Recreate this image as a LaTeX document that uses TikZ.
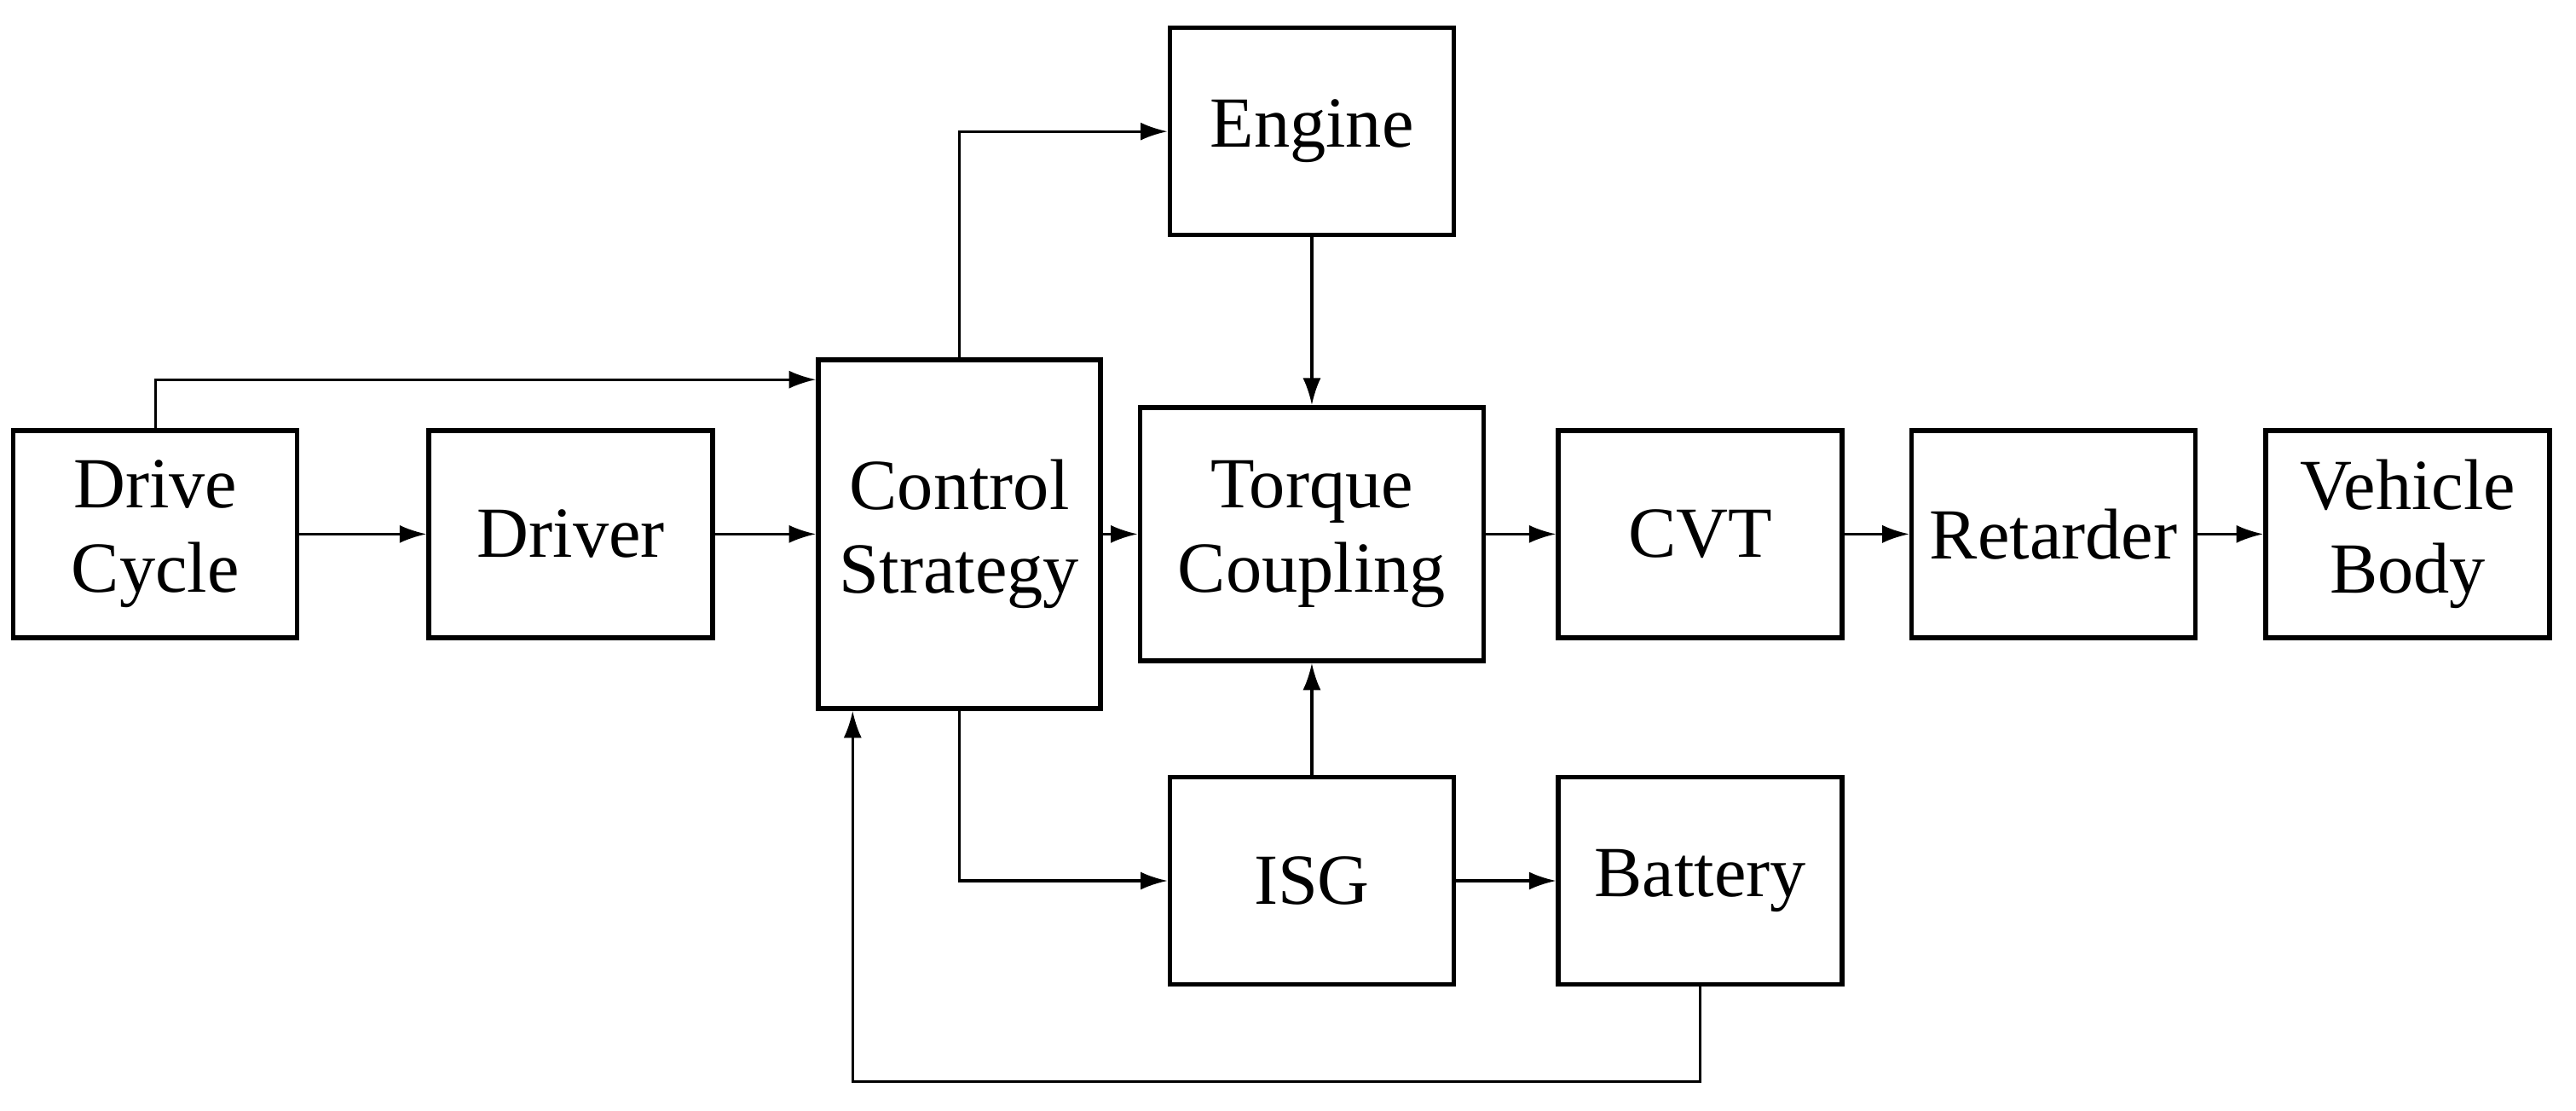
\documentclass[tikz,border=0pt]{standalone}
\usepackage{fontspec}
\setmainfont{Liberation Serif}
\usetikzlibrary{arrows.meta}
\begin{document}
\begin{tikzpicture}[x=0.01927cm,y=-0.01927cm,
  box/.style={draw,line width=1.6pt,minimum width=3.33cm,minimum height=2.43cm,
    align=center,inner sep=0pt,font=\fontsize{24}{28}\selectfont},
  conn/.style={line width=0.9pt,-{Latex[length=9pt,width=6pt]}}]
\useasboundingbox (0,0) rectangle (1568,675.6);
\node[box] (dc) at (94.5,325) {Drive\\Cycle};
\node[box] (dr) at (347.5,325) {Driver};
\node[box,minimum width=3.31cm,minimum height=4.09cm] (cs) at (584,325) {Control\\Strategy};
\node[box] (en) at (798.5,80) {Engine};
\node[box,minimum width=4.03cm,minimum height=2.97cm] (tc) at (798.5,325) {Torque\\Coupling};
\node[box] (cvt) at (1035,325) {CVT};
\node[box] (ret) at (1250,325) {Retarder};
\node[box] (vb) at (1465.5,325) {Vehicle\\Body};
\node[box] (isg) at (798.5,536) {ISG};
\node[box] (bat) at (1035,536) {Battery};
\coordinate (c1) at (519,658);
\draw[conn] (dc) -- (dr);
\draw[conn] (dr) -- (cs);
\draw[conn] (dc.north) |- (cs.west |- 0,231);
\draw[conn] (cs) -- (tc);
\draw[conn] (cs.north) |- (en.west);
\draw[conn] (en) -- (tc);
\draw[conn] (isg) -- (tc);
\draw[conn] (tc) -- (cvt);
\draw[conn] (cvt) -- (ret);
\draw[conn] (ret) -- (vb);
\draw[conn] (cs.south) |- (isg.west);
\draw[conn] (isg) -- (bat);
\draw[conn] (bat.south) |- (c1) -- (c1 |- cs.south);
\end{tikzpicture}
\end{document}
